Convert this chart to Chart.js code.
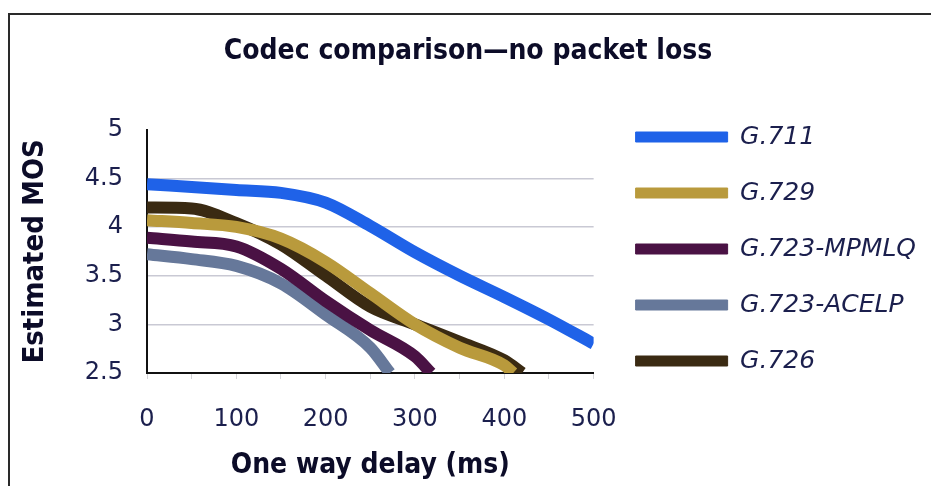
<!DOCTYPE html>
<html>
<head>
<meta charset="utf-8">
<script src="https://cdn.jsdelivr.net/npm/chart.js@4.4.1/dist/chart.umd.min.js"></script>
<style>
  html, body { margin: 0; padding: 0; background: #fff; }
  #wrap { position: relative; width: 931px; height: 486px; }
  #frame {
    position: absolute; left: 8px; top: 13px; right: 0; bottom: 0;
    border-top: 2px solid #2a2a2a; border-left: 2px solid #2a2a2a;
    pointer-events: none;
  }
</style>
</head>
<body>
<div id="wrap">
  <canvas id="codecChart" width="931" height="486"></canvas>
  <div id="frame"></div>
</div>
<script>
// delay in ms, estimated MOS
const g711Delay = [0, 50, 100, 150, 200, 250, 300, 350, 400, 450, 500];
const g711Mos   = [4.44, 4.41, 4.38, 4.35, 4.25, 4.01, 3.74, 3.5, 3.28, 3.05, 2.8];

const g729Delay = [0, 50, 100, 150, 200, 250, 300, 350, 400, 410];
const g729Mos   = [4.07, 4.04, 4.0, 3.88, 3.64, 3.32, 3.0, 2.76, 2.58, 2.5];

const mpmlqDelay = [0, 50, 100, 150, 200, 250, 300, 318];
const mpmlqMos   = [3.89, 3.85, 3.8, 3.57, 3.24, 2.94, 2.67, 2.5];

const acelpDelay = [0, 50, 100, 150, 200, 250, 272];
const acelpMos   = [3.72, 3.67, 3.6, 3.42, 3.1, 2.76, 2.5];

const g726Delay = [0, 50, 100, 150, 200, 250, 300, 350, 400, 420];
const g726Mos   = [4.2, 4.19, 4.04, 3.82, 3.5, 3.18, 3.0, 2.82, 2.63, 2.5];

const codecNames = ['G.711', 'G.729', 'G.723-MPMLQ', 'G.723-ACELP', 'G.726'];
const codecColors = ['#1f62e8', '#b99a3c', '#4a1244', '#66789a', '#3a2a12'];

const tickColor = '#1b1f4d';
const titleColor = '#0c0c28';
const plainFont = "'DejaVu Sans', sans-serif";
const boldFont = "'DejaVu Sans Condensed', 'Liberation Sans Narrow', 'DejaVu Sans', sans-serif";

const toPoints = (xs, ys) => xs.map((x, i) => ({ x: x, y: ys[i] }));

const series = [
  toPoints(g711Delay, g711Mos),
  toPoints(g729Delay, g729Mos),
  toPoints(mpmlqDelay, mpmlqMos),
  toPoints(acelpDelay, acelpMos),
  toPoints(g726Delay, g726Mos)
];

const datasets = series.map((pts, i) => ({
  label: codecNames[i],
  data: pts,
  borderColor: codecColors[i],
  backgroundColor: codecColors[i],
  borderWidth: 12,
  pointRadius: 0,
  cubicInterpolationMode: 'monotone',
  clip: 0,
  xAxisID: 'x',
  yAxisID: 'y'
}));

const ctx = document.getElementById('codecChart').getContext('2d');

new Chart(ctx, {
  type: 'line',
  data: { datasets: datasets },
  options: {
    responsive: false,
    animation: false,
    layout: {
      padding: { left: 10, right: 5, top: 12, bottom: 0 }
    },
    scales: {
      x: {
        type: 'linear',
        min: 0,
        max: 500,
        afterFit: (scale) => { scale.height = 486 - 373; },
        ticks: {
          stepSize: 50,
          autoSkip: false,
          maxRotation: 0,
          padding: 26,
          color: tickColor,
          font: { family: plainFont, size: 24 },
          callback: (v) => (v % 100 === 0 ? v : '')
        },
        grid: {
          drawOnChartArea: false,
          drawTicks: true,
          tickLength: 6,
          color: '#d4d4d8'
        },
        border: { display: true, color: '#111', width: 2 },
        title: {
          display: true,
          text: 'One way delay (ms)',
          color: titleColor,
          font: { family: boldFont, size: 28, weight: 'bold' },
          padding: { top: 0, bottom: 3 }
        }
      },
      y: {
        min: 2.5,
        max: 5,
        afterFit: (scale) => { scale.width = 147 - 10; },
        ticks: {
          stepSize: 0.5,
          padding: 24,
          color: tickColor,
          font: { family: plainFont, size: 24 },
          callback: (v) => String(v)
        },
        grid: {
          drawTicks: false,
          color: (c) => (c.tick && (c.tick.value === 5 || c.tick.value === 2.5) ? 'rgba(0,0,0,0)' : '#c9c9d4'),
          lineWidth: 1.5
        },
        border: { display: true, color: '#111', width: 2 },
        title: {
          display: true,
          text: 'Estimated MOS',
          color: titleColor,
          font: { family: boldFont, size: 29, weight: 'bold' },
          padding: { top: 8, bottom: 0 }
        }
      },
      gap: {
        type: 'linear',
        position: 'right',
        afterFit: (scale) => { scale.width = 11; },
        ticks: { display: false },
        grid: { display: false },
        border: { display: false }
      }
    },
    plugins: {
      title: {
        display: true,
        text: 'Codec comparison\u2014no packet loss',
        color: titleColor,
        font: { family: boldFont, size: 28, weight: 'bold' },
        padding: { top: 23, bottom: 61 }
      },
      legend: {
        position: 'right',
        align: 'center',
        maxWidth: 360,
        labels: {
          boxWidth: 92,
          boxHeight: 10,
          padding: 31,
          color: tickColor,
          font: { family: plainFont, size: 25, style: 'italic' },
          generateLabels: (chart) =>
            Chart.defaults.plugins.legend.labels.generateLabels(chart).map(l => ({ ...l, lineWidth: 1 }))
        }
      },
      tooltip: { enabled: false }
    }
  }
});
</script>
</body>
</html>
